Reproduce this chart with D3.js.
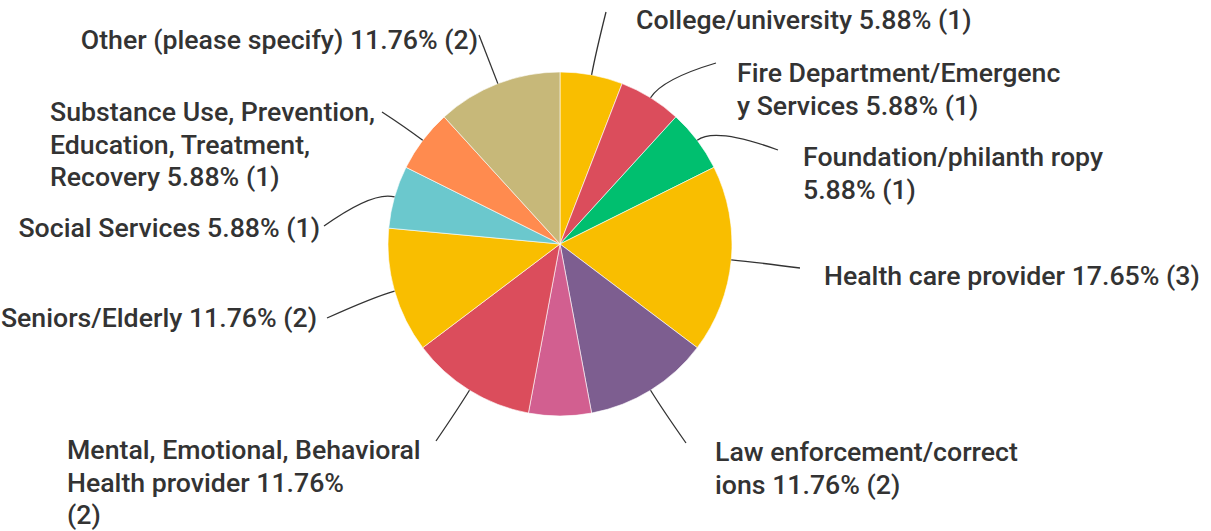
<!DOCTYPE html>
<html>
<head>
<meta charset="utf-8">
<script src="https://cdn.jsdelivr.net/npm/d3@7"></script>
<style>
  body { margin: 0; background: #fff; }
  svg text { font-family: Roboto, "Noto Sans", sans-serif; font-size: 26.7px; font-weight: 500; fill: #333; }
</style>
</head>
<body>
<svg id="chart" width="1211" height="531"></svg>
<script>
// Categories in clockwise order from 12 o'clock
const categories = [
  "College/university",
  "Fire Department/Emergency Services",
  "Foundation/philanthropy",
  "Health care provider",
  "Law enforcement/corrections",
  "(unlabeled)",
  "Mental, Emotional, Behavioral Health provider",
  "Seniors/Elderly",
  "Social Services",
  "Substance Use, Prevention, Education, Treatment, Recovery",
  "Other (please specify)"
];
const counts = [1, 1, 1, 3, 2, 1, 2, 2, 1, 1, 2];
const colors = ["#F9BE00", "#DB4D5C", "#00BF6F", "#F9BE00", "#7D5E90", "#D25F90",
                "#DB4D5C", "#F9BE00", "#6BC8CD", "#FF8B4F", "#C7B879"];
// label text as shown (already wrapped), null = no label
const labelLines = [
  ["College/university 5.88% (1)"],
  ["Fire Department/Emergenc", "y Services 5.88% (1)"],
  ["Foundation/philanth ropy", "5.88% (1)"],
  ["Health care provider 17.65% (3)"],
  ["Law enforcement/correct", "ions 11.76% (2)"],
  null,
  ["Mental, Emotional, Behavioral", "Health provider 11.76%", "(2)"],
  ["Seniors/Elderly 11.76% (2)"],
  ["Social Services 5.88% (1)"],
  ["Substance Use, Prevention,", "Education, Treatment,", "Recovery 5.88% (1)"],
  ["Other (please specify) 11.76% (2)"]
];

// layout: text position (x, first baseline) and leader end point
const labelLayout = [
  { x: 636, y: 29, ex: 606, ey: 12, anchor: "start" },
  { x: 737, y: 82, ex: 716, ey: 63, anchor: "start" },
  { x: 803, y: 166, ex: 778, ey: 150, anchor: "start" },
  { x: 824, y: 285, ex: 800, ey: 268, anchor: "start" },
  { x: 715, y: 461, ex: 686, ey: 443, anchor: "start" },
  null,
  { x: 67, y: 459, ex: 436, ey: 441, anchor: "start" },
  { x: 317, y: 327, ex: 327, ey: 318, anchor: "end" },
  { x: 320, y: 237, ex: 324, ey: 226, anchor: "end" },
  { x: 50, y: 121, ex: 382, ey: 112, anchor: "start" },
  { x: 478, y: 49, ex: 479, ey: 35, anchor: "end" }
];

const cx = 560, cy = 244, radius = 172, lineH = 32.5;
const svg = d3.select("#chart");
const g = svg.append("g").attr("transform", `translate(${cx},${cy})`);

const pie = d3.pie().sort(null).value(d => d);
const arcs = pie(counts);
const arc = d3.arc().innerRadius(0).outerRadius(radius);

g.selectAll("path.slice")
  .data(arcs)
  .enter().append("path")
  .attr("class", "slice")
  .attr("d", arc)
  .attr("fill", (d, i) => colors[i])
  .attr("stroke", "#fff")
  .attr("stroke-width", 0.6);

// leader lines: leave the slice radially, then bend to the label
arcs.forEach((d, i) => {
  const lay = labelLayout[i];
  if (!lay) return;
  const a = (d.startAngle + d.endAngle) / 2;
  const sx = Math.sin(a) * radius, sy = -Math.cos(a) * radius;
  const kx = Math.sin(a) * (radius + 22), ky = -Math.cos(a) * (radius + 22);
  const p = d3.path();
  p.moveTo(sx, sy);
  p.quadraticCurveTo(kx, ky, lay.ex - cx, lay.ey - cy);
  g.append("path")
    .attr("d", p.toString())
    .attr("fill", "none")
    .attr("stroke", "#333")
    .attr("stroke-width", 1.3);
});

// labels
labelLines.forEach((lines, i) => {
  const lay = labelLayout[i];
  if (!lines || !lay) return;
  const t = svg.append("text")
    .attr("x", lay.x)
    .attr("y", lay.y)
    .attr("text-anchor", lay.anchor);
  lines.forEach((s, j) => {
    t.append("tspan").attr("x", lay.x).attr("y", lay.y + j * lineH).text(s);
  });
});
</script>
</body>
</html>
